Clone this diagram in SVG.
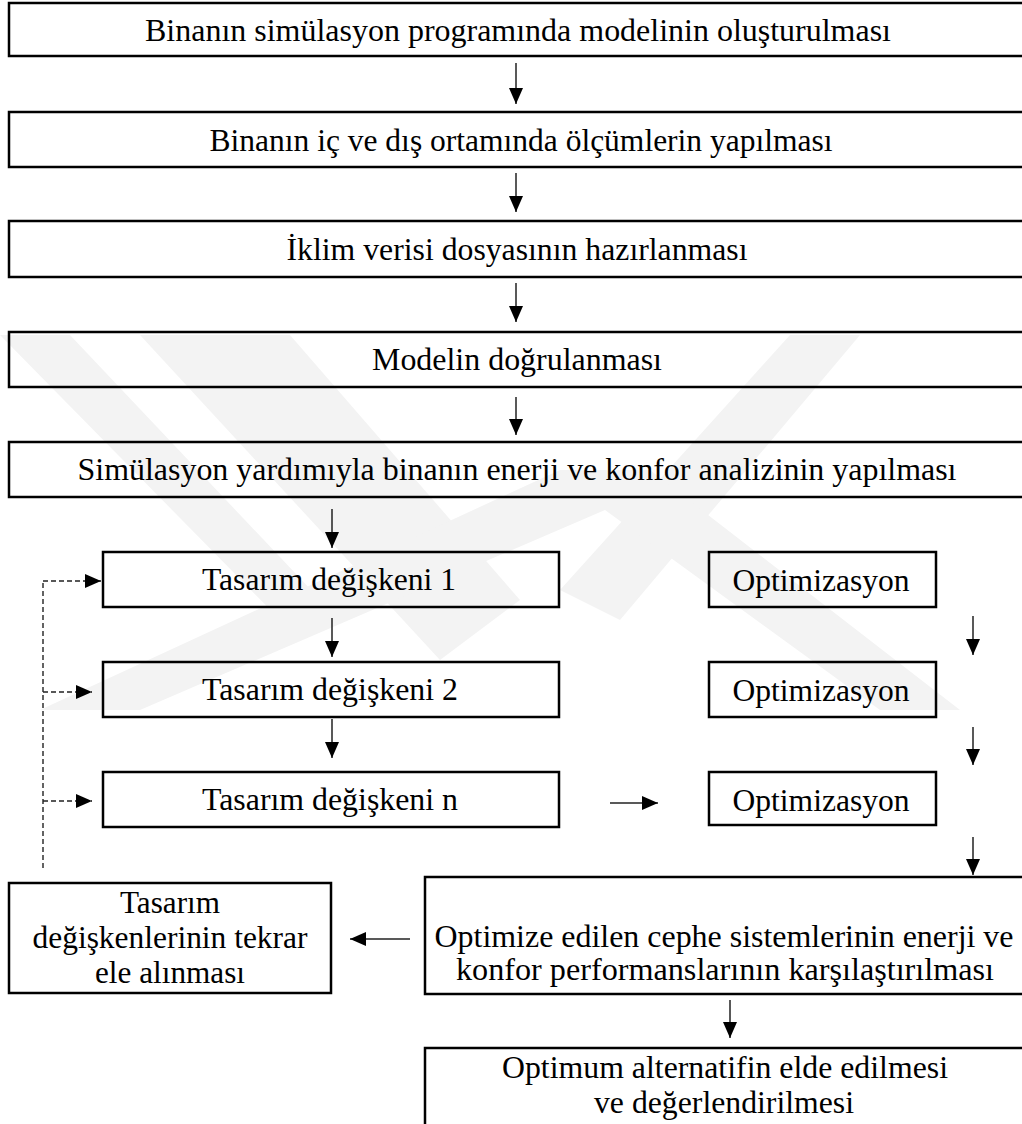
<svg xmlns="http://www.w3.org/2000/svg" width="1022" height="1124" viewBox="0 0 1022 1124">
<style>
.box{fill:none;stroke:#000;stroke-width:2.5}
.t{font-family:"Liberation Serif","Times New Roman",serif;font-size:31px;fill:#000;text-anchor:middle}
.c{fill:none;stroke:#222;stroke-width:1.5}
.d{fill:none;stroke:#222;stroke-width:1.4;stroke-dasharray:5 3}
.wm{fill:#f3f3f3}
</style>
<defs>
<marker id="ah" markerUnits="userSpaceOnUse" markerWidth="16" markerHeight="14" refX="16" refY="7" orient="auto">
<path d="M0,0 L16,7 L0,14 z" fill="#000"/>
</marker>
</defs>
<rect width="1022" height="1124" fill="#fff"/>
<g id="watermark">
<polygon class="wm" points="0,335 70,335 330,610 300,640"/>
<polygon class="wm" points="140,335 290,335 520,600 440,660"/>
<polygon class="wm" points="790,335 860,335 620,620 560,590"/>
<polygon class="wm" points="560,470 650,470 960,710 880,710 605,510 140,710 40,710"/>
</g>
<g id="connectors">
<line class="c" x1="516" y1="63" x2="516" y2="104" marker-end="url(#ah)"/>
<line class="c" x1="516" y1="173" x2="516" y2="212" marker-end="url(#ah)"/>
<line class="c" x1="516" y1="283" x2="516" y2="322" marker-end="url(#ah)"/>
<line class="c" x1="516" y1="397" x2="516" y2="435" marker-end="url(#ah)"/>
<line class="c" x1="332" y1="509" x2="332" y2="548" marker-end="url(#ah)"/>
<line class="c" x1="332" y1="618" x2="332" y2="657" marker-end="url(#ah)"/>
<line class="c" x1="332" y1="719" x2="332" y2="758" marker-end="url(#ah)"/>
<line class="c" x1="973" y1="616" x2="973" y2="655" marker-end="url(#ah)"/>
<line class="c" x1="973" y1="727" x2="973" y2="765" marker-end="url(#ah)"/>
<line class="c" x1="973" y1="837" x2="973" y2="875" marker-end="url(#ah)"/>
<line class="c" x1="610" y1="803" x2="658" y2="803" marker-end="url(#ah)"/>
<line class="c" x1="410" y1="939" x2="350" y2="939" marker-end="url(#ah)"/>
<line class="c" x1="730" y1="1000" x2="730" y2="1038" marker-end="url(#ah)"/>
<line class="d" x1="43" y1="868" x2="43" y2="581"/>
<line class="d" x1="43" y1="581" x2="101" y2="581" marker-end="url(#ah)"/>
<line class="d" x1="43" y1="692" x2="92" y2="692" marker-end="url(#ah)"/>
<line class="d" x1="43" y1="801" x2="92" y2="801" marker-end="url(#ah)"/>
</g>
<g id="n1"><rect class="box" x="9" y="3" width="1025" height="53"/><text class="t" x="518" y="41" textLength="746" lengthAdjust="spacingAndGlyphs">Binanın simülasyon programında modelinin oluşturulması</text></g>
<g id="n2"><rect class="box" x="9" y="112" width="1025" height="55"/><text class="t" x="521" y="151" textLength="623" lengthAdjust="spacingAndGlyphs">Binanın iç ve dış ortamında ölçümlerin yapılması</text></g>
<g id="n3"><rect class="box" x="9" y="221" width="1025" height="56"/><text class="t" x="517" y="260" textLength="461" lengthAdjust="spacingAndGlyphs">İklim verisi dosyasının hazırlanması</text></g>
<g id="n4"><rect class="box" x="9" y="332" width="1025" height="55"/><text class="t" x="517" y="370" textLength="290" lengthAdjust="spacingAndGlyphs">Modelin doğrulanması</text></g>
<g id="n5"><rect class="box" x="9" y="442" width="1025" height="55"/><text class="t" x="517" y="480" textLength="879" lengthAdjust="spacingAndGlyphs">Simülasyon yardımıyla binanın enerji ve konfor analizinin yapılması</text></g>
<g id="v1"><rect class="box" x="103" y="552" width="456" height="55"/><text class="t" x="329" y="590" textLength="254" lengthAdjust="spacingAndGlyphs">Tasarım değişkeni 1</text></g>
<g id="v2"><rect class="box" x="103" y="662" width="456" height="55"/><text class="t" x="330" y="700" textLength="256" lengthAdjust="spacingAndGlyphs">Tasarım değişkeni 2</text></g>
<g id="v3"><rect class="box" x="103" y="772" width="456" height="55"/><text class="t" x="330" y="810" textLength="256" lengthAdjust="spacingAndGlyphs">Tasarım değişkeni n</text></g>
<g id="o1"><rect class="box" x="709" y="552" width="227" height="55"/><text class="t" x="821" y="591" textLength="177" lengthAdjust="spacingAndGlyphs">Optimizasyon</text></g>
<g id="o2"><rect class="box" x="709" y="662" width="227" height="55"/><text class="t" x="821" y="701" textLength="177" lengthAdjust="spacingAndGlyphs">Optimizasyon</text></g>
<g id="o3"><rect class="box" x="709" y="772" width="227" height="53"/><text class="t" x="821" y="811" textLength="177" lengthAdjust="spacingAndGlyphs">Optimizasyon</text></g>
<g id="cmp"><rect class="box" x="425" y="877" width="610" height="117"/><text class="t" x="724" y="947" textLength="579" lengthAdjust="spacingAndGlyphs">Optimize edilen cephe sistemlerinin enerji ve</text><text class="t" x="725" y="980" textLength="538" lengthAdjust="spacingAndGlyphs">konfor performanslarının karşılaştırılması</text></g>
<g id="re"><rect class="box" x="9" y="883" width="322" height="110"/><text class="t" x="170" y="913" textLength="100" lengthAdjust="spacingAndGlyphs">Tasarım</text><text class="t" x="170" y="948" textLength="275" lengthAdjust="spacingAndGlyphs">değişkenlerinin tekrar</text><text class="t" x="170" y="983" textLength="150" lengthAdjust="spacingAndGlyphs">ele alınması</text></g>
<g id="opt"><rect class="box" x="425" y="1048" width="610" height="80"/><text class="t" x="725" y="1078" textLength="446" lengthAdjust="spacingAndGlyphs">Optimum alternatifin elde edilmesi</text><text class="t" x="724" y="1113" textLength="260" lengthAdjust="spacingAndGlyphs">ve değerlendirilmesi</text></g>
</svg>
